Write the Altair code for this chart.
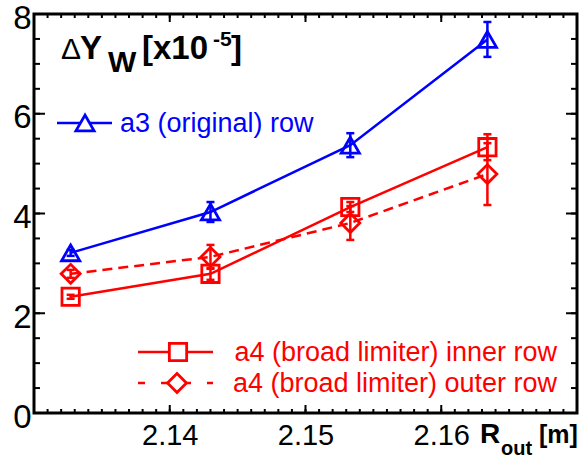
import altair as alt
import pandas as pd

# ---------------- data ----------------
r_out = [2.1327, 2.1430, 2.1533, 2.1634]

a3_val = [3.21, 4.03, 5.37, 7.49]
a3_err = [0.06, 0.20, 0.24, 0.35]

a4_inner_val = [2.33, 2.79, 4.13, 5.33]
a4_inner_err = [0.04, 0.12, 0.10, 0.26]

a4_outer_val = [2.79, 3.13, 3.81, 4.79]
a4_outer_err = [0.08, 0.24, 0.34, 0.62]

series_names = ["a3 (original) row",
                "a4 (broad limiter) inner row",
                "a4 (broad limiter) outer row"]

x_domain = [2.130, 2.170]
y_domain = [0, 8]
x_tick_labels = [2.14, 2.15, 2.16]
y_tick_labels = [0, 2, 4, 6, 8]
x_minor_ticks = [round(2.131 + 0.001 * i, 3) for i in range(39)]
y_minor_ticks = [0.5 * i for i in range(1, 16)]
x_major_ticks = [2.14, 2.15, 2.16]
y_major_ticks = [2, 4, 6]

# ---------------- styling ----------------
W, H = 543, 399
FONT = "Liberation Sans"
BLUE = "#0000ff"
RED = "#ff0000"

xs = alt.Scale(domain=x_domain, nice=False, zero=False)
ys = alt.Scale(domain=y_domain, nice=False, zero=False)

xax = alt.Axis(values=x_tick_labels, format=".2f", labelFont=FONT, labelFontSize=29,
               labelColor="black", ticks=False, tickSize=0, domain=False, grid=False,
               title=None, labelPadding=8, labelFlush=False)
yax = alt.Axis(values=y_tick_labels, format="d", labelFont=FONT, labelFontSize=33,
               labelColor="black", ticks=False, tickSize=0, domain=False, grid=False,
               title=None, labelPadding=3, labelOffset=4, labelFlush=False)


def X(field):
    return alt.X(field, type="quantitative", scale=xs, axis=xax)


def Y(field):
    return alt.Y(field, type="quantitative", scale=ys, axis=yax)


layers = []

# ---- ticks (inward) ----
ym = pd.DataFrame({"v": y_minor_ticks})
yM = pd.DataFrame({"v": y_major_ticks})
xm = pd.DataFrame({"v": x_minor_ticks})
xM = pd.DataFrame({"v": x_major_ticks})

layers.append(alt.Chart(ym).mark_rule(color="black", strokeWidth=2).encode(
    y=Y("v"), x=alt.value(0), x2=alt.value(6)))
layers.append(alt.Chart(yM).mark_rule(color="black", strokeWidth=2).encode(
    y=Y("v"), x=alt.value(0), x2=alt.value(11)))
layers.append(alt.Chart(ym).mark_rule(color="black", strokeWidth=2).encode(
    y=Y("v"), x=alt.value(W - 6), x2=alt.value(W)))
layers.append(alt.Chart(yM).mark_rule(color="black", strokeWidth=2).encode(
    y=Y("v"), x=alt.value(W - 11), x2=alt.value(W)))
layers.append(alt.Chart(xm).mark_rule(color="black", strokeWidth=2).encode(
    x=X("v"), y=alt.value(H - 4), y2=alt.value(H)))
layers.append(alt.Chart(xM).mark_rule(color="black", strokeWidth=2).encode(
    x=X("v"), y=alt.value(H - 8), y2=alt.value(H)))
layers.append(alt.Chart(xm).mark_rule(color="black", strokeWidth=2).encode(
    x=X("v"), y=alt.value(0), y2=alt.value(4)))
layers.append(alt.Chart(xM).mark_rule(color="black", strokeWidth=2).encode(
    x=X("v"), y=alt.value(0), y2=alt.value(8)))

# ---- series ----
series = [
    (a3_val, a3_err, BLUE, [1, 0], "triangle-up", 330),
    (a4_inner_val, a4_inner_err, RED, [1, 0], "square", 300),
    (a4_outer_val, a4_outer_err, RED, [10, 6], "diamond", 360),
]

for vals, errs, col, dash, shape, size in series:
    df = pd.DataFrame({
        "x": r_out,
        "y": vals,
        "lo": [v - e for v, e in zip(vals, errs)],
        "hi": [v + e for v, e in zip(vals, errs)],
    })
    base = alt.Chart(df)
    line_kw = dict(color=col, strokeWidth=2.5)
    if dash != [1, 0]:
        line_kw["strokeDash"] = dash
    layers.append(base.mark_line(**line_kw).encode(x=X("x"), y=Y("y")))
    layers.append(base.mark_rule(color=col, strokeWidth=2.5).encode(
        x=X("x"), y=Y("lo"), y2=alt.Y2("hi")))
    layers.append(base.mark_tick(color=col, orient="horizontal", size=8, thickness=2.5,
                                 opacity=1).encode(x=X("x"), y=Y("lo")))
    layers.append(base.mark_tick(color=col, orient="horizontal", size=8, thickness=2.5,
                                 opacity=1).encode(x=X("x"), y=Y("hi")))
    layers.append(base.mark_point(shape=shape, filled=False, size=size, strokeWidth=2.8,
                                  color=col, opacity=1).encode(x=X("x"), y=Y("y")))

# ---- manual legend ----
leg = [
    # name, color, dash, shape, size, line x0, x1, marker x, y, text x, align
    (series_names[0], BLUE, None, "triangle-up", 330, 23, 78, 51, 109, 86, "left"),
    (series_names[1], RED, None, "square", 300, 104, 179, 144, 338, 523, "right"),
    (series_names[2], RED, [7, 16], "diamond", 360, 104, 179, 143, 369, 523, "right"),
]
for name, col, dash, shape, size, x0, x1, mx, yy, tx, al in leg:
    one = pd.DataFrame({"label": [name]})
    kw = dict(color=col, strokeWidth=2.5)
    if dash:
        kw["strokeDash"] = dash
    layers.append(alt.Chart(one).mark_rule(**kw).encode(
        x=alt.value(x0), x2=alt.value(x1), y=alt.value(yy)))
    layers.append(alt.Chart(one).mark_point(shape=shape, filled=True, fill="white", size=size,
                                            strokeWidth=2.8, stroke=col, opacity=1).encode(
        x=alt.value(mx), y=alt.value(yy)))
    layers.append(alt.Chart(one).mark_text(align=al, baseline="middle", font=FONT,
                                           fontSize=27, color=col).encode(
        x=alt.value(tx), y=alt.value(yy + 1), text="label:N"))

# ---- title pieces  "ΔY_W [x10^-5]" and axis title "R_out [m]" ----
pieces = [
    ("Δ", 27, 45, 30, "normal"),
    ("Y", 46, 45, 33, "bold"),
    ("W", 74, 58, 30, "bold"),
    ("[x10", 108, 45, 33, "bold"),
    ("-5", 179, 32, 21, "bold"),
    ("]", 197, 45, 33, "bold"),
    ("R", 446, 429, 28, "bold"),
    ("out", 467, 441, 20, "bold"),
    ("[m]", 505, 429, 25, "bold"),
]
for txt, px, py, fs, fw in pieces:
    one = pd.DataFrame({"t": [txt]})
    layers.append(alt.Chart(one).mark_text(align="left", baseline="alphabetic", font=FONT,
                                           fontSize=fs, fontWeight=fw, color="black").encode(
        x=alt.value(px), y=alt.value(py), text="t:N"))

chart = alt.layer(*layers).properties(
    width=W, height=H,
    autosize=alt.AutoSizeParams(type="none"),
    padding={"left": 34, "top": 14, "right": 3, "bottom": 46},
    background="white",
).configure_view(stroke="black", strokeWidth=3)

chart.save("out.html", embed_options={"renderer": "svg", "actions": False})
